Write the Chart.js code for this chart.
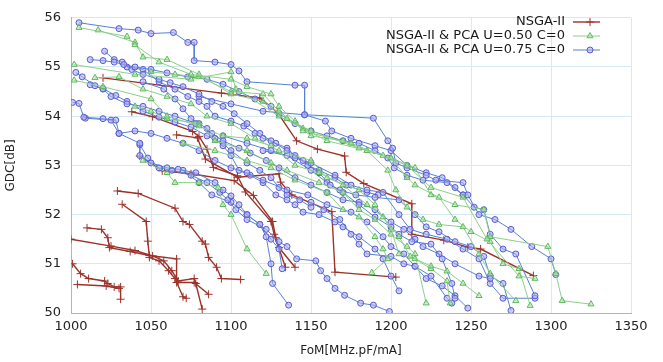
<!DOCTYPE html>
<html lang="en">
<head>
  <meta charset="UTF-8">
  <title>GDC vs FoM</title>
  <script src="https://cdn.jsdelivr.net/npm/chart.js"></script>
  <style>
    body { margin: 0; background: #ffffff; }
    #wrap { width: 663px; height: 362px; }
  </style>
</head>
<body>
  <div id="wrap"><canvas id="gdcChart" width="663" height="362"></canvas></div>

  <script>
    // axis ticks
    const xTicks = [1000, 1050, 1100, 1150, 1200, 1250, 1300, 1350];
    const yTicks = [50, 51, 52, 53, 54, 55, 56];
    const seriesNames = ['NSGA-II', 'NSGA-II & PCA U=0.50 C=0', 'NSGA-II & PCA U=0.75 C=0'];

    // NSGA-II runs (FoM, GDC)
    const nsgaRuns = [
      [[1020,54.78],[1094,54.47],[1118,54.37],[1129,54.08],[1141,53.5],[1154,53.33],[1171,53.19],[1172,52.86],[1183,52.63],[1213,52.22],[1213,51.6],[1233,51.48],[1248,51.34],[1256,51.3],[1289,50.76]],
      [[1038,54.09],[1051,53.99],[1076,53.69],[1080,53.59],[1085,53.33],[1089,52.96],[1104,52.79],[1109,52.46],[1125,51.86],[1127,51.6],[1134,50.93]],
      [[1066,53.62],[1079,53.56],[1084,53.13],[1104,52.76],[1130,52.83],[1131,52.66],[1138,52.4],[1163,52.06],[1165,50.83],[1203,50.73]],
      [[1043,53.19],[1057,52.89],[1075,52.83],[1102,52.69],[1114,52.39],[1126,51.86],[1128,51.53],[1130,51.33],[1140,50.93]],
      [[1029,52.48],[1042,52.43],[1065,52.13],[1070,51.86],[1074,51.8],[1082,51.46],[1084,51.4],[1086,51.13],[1091,50.93],[1094,50.7],[1106,50.68]],
      [[1032,52.21],[1047,51.86],[1048,51.46],[1049,51.13],[1055,51.06],[1061,50.86],[1065,50.7],[1070,50.33],[1072,50.3]],
      [[1010,51.73],[1019,51.7],[1023,51.53],[1024,51.33],[1037,51.25],[1049,51.17],[1066,51.1],[1066,50.62],[1077,50.62],[1086,50.38]],
      [[1000,51.5],[1025,51.36],[1040,51.27],[1051,51.16],[1058,51.06],[1063,50.86],[1067,50.65],[1077,50.7],[1078,50.6],[1082,50.08]],
      [[1001,51.0],[1006,50.8],[1011,50.7],[1021,50.65],[1023,50.6],[1027,50.53],[1031,50.53],[1031,50.28]],
      [[1004,50.58],[1022,50.55],[1030,50.5]]
    ];

    // NSGA-II & PCA U=0.50 runs
    const pca50Runs = [
      [[1005,55.8],[1035,55.62],[1040,55.45],[1055,55.1],[1075,54.85],[1100,54.75],[1110,54.6],[1125,54.45],[1130,54.2],[1140,53.9],[1145,53.7],[1175,53.45],[1195,53.2],[1210,53.0],[1225,52.55],[1245,52.35],[1260,51.5],[1280,50.75],[1290,50.7]],
      [[1017,55.75],[1040,55.5],[1045,55.2],[1060,55.15],[1080,54.85],[1100,54.45],[1120,54.3],[1135,53.95],[1150,53.7],[1180,53.35],[1200,53.15],[1215,52.95],[1225,52.4],[1240,52.2],[1258,52.1],[1262,51.55],[1298,51.35],[1303,50.8],[1307,50.25],[1325,50.18]],
      [[1002,55.05],[1040,54.85],[1075,54.75],[1100,54.9],[1103,54.55],[1130,54.0],[1145,53.75],[1160,53.5],[1185,53.3],[1200,53.15],[1210,52.75],[1215,52.6],[1230,52.35],[1240,51.9],[1250,51.65],[1262,51.45],[1270,51.0],[1280,50.9],[1287,50.15]],
      [[1002,54.73],[1020,54.6],[1050,54.35],[1060,54.0],[1080,53.8],[1095,53.6],[1110,53.55],[1125,53.4],[1140,53.0],[1155,52.85],[1170,52.6],[1185,52.2],[1195,51.95],[1205,51.55],[1212,51.15],[1225,50.95],[1235,50.85],[1245,50.6],[1255,50.35]],
      [[1015,54.78],[1030,54.8],[1045,54.55],[1060,54.4],[1075,54.25],[1085,54.0],[1100,53.85],[1115,53.55],[1130,53.3],[1150,53.1],[1160,52.75],[1180,52.5],[1190,52.2],[1200,51.7],[1205,51.2],[1215,51.1],[1225,50.9],[1235,50.65],[1237,50.2]],
      [[1045,53.1],[1060,52.85],[1065,52.65],[1080,52.65],[1092,52.55],[1095,52.2],[1100,52.0],[1110,51.3],[1122,50.8]],
      [[1040,54.2],[1050,54.1],[1060,53.95],[1080,53.85],[1090,53.5],[1110,53.3],[1125,53.05],[1135,52.9],[1155,52.65],[1170,52.45],[1180,52.1],[1190,51.9],[1200,51.6],[1210,51.35],[1215,51.2],[1222,50.2]],
      [[1050,54.9],[1065,54.85],[1080,54.8],[1100,54.5],[1120,54.45],[1130,54.1],[1150,53.6],[1170,53.5],[1185,53.3],[1198,52.9],[1203,52.5],[1210,52.15],[1220,51.9],[1230,51.8],[1245,51.75],[1255,51.2],[1262,50.8],[1278,50.25]],
      [[1070,53.45],[1090,53.3],[1110,53.1],[1125,52.95],[1140,52.7],[1160,52.45],[1170,52.1],[1180,51.95],[1190,51.55],[1195,51.3],[1198,51.1],[1188,50.82]]
    ];

    // NSGA-II & PCA U=0.75 runs
    const pca75Runs = [
      [[1005,55.9],[1030,55.78],[1042,55.75],[1050,55.68],[1064,55.7],[1073,55.5],[1077,55.5],[1077,55.13],[1090,55.1],[1100,55.05],[1105,54.92],[1110,54.7],[1140,54.63],[1146,54.63],[1146,54.03],[1189,53.96],[1198,53.5],[1201,53.35],[1203,53.05],[1210,52.95],[1222,52.8],[1228,52.7],[1245,52.65],[1248,52.4],[1255,52.0],[1265,51.9],[1275,51.7],[1288,51.35],[1300,51.1],[1303,50.78]],
      [[1012,55.15],[1020,55.13],[1027,55.1],[1033,55.05],[1040,55.0],[1050,54.95],[1060,54.88],[1073,54.8],[1085,54.75],[1095,54.65],[1105,54.5],[1115,54.35],[1125,54.2],[1130,54.05],[1140,53.85],[1150,53.7],[1160,53.6],[1170,53.5],[1180,53.45],[1190,53.3],[1198,53.15],[1202,52.95],[1210,52.8],[1220,52.7],[1235,52.65],[1245,52.4],[1252,52.15],[1258,52.1],[1262,51.6],[1270,51.3],[1278,51.2],[1290,50.35]],
      [[1021,55.32],[1027,55.15],[1032,55.1],[1038,54.95],[1045,54.85],[1055,54.75],[1062,54.68],[1070,54.6],[1080,54.45],[1088,54.3],[1095,54.2],[1102,54.05],[1110,53.85],[1118,53.65],[1125,53.5],[1135,53.3],[1145,53.1],[1155,52.85],[1162,52.6],[1170,52.45],[1180,52.2],[1190,51.95],[1200,51.75],[1205,51.6],[1213,51.45],[1225,51.4],[1232,51.1],[1238,50.6],[1240,50.3]],
      [[1003,54.89],[1007,54.8],[1015,54.62],[1020,54.55],[1025,54.4],[1035,54.25],[1045,54.2],[1055,54.1],[1065,54.0],[1078,53.85],[1088,53.65],[1095,53.5],[1105,53.35],[1112,53.25],[1122,53.1],[1130,52.95],[1140,52.75],[1150,52.6],[1160,52.45],[1170,52.3],[1180,52.25],[1190,52.1],[1200,51.85],[1208,51.7],[1215,51.5],[1220,51.35],[1230,51.2],[1240,51.0],[1255,50.75],[1262,50.7]],
      [[1001,54.28],[1005,54.26],[1008,53.98],[1020,53.95],[1028,53.92],[1030,53.65],[1040,53.7],[1050,53.65],[1060,53.55],[1070,53.45],[1080,53.3],[1090,53.1],[1100,52.95],[1110,52.85],[1120,52.7],[1135,52.5],[1148,52.4],[1160,52.2],[1175,52.05],[1185,51.85],[1195,51.55],[1200,51.35],[1208,51.2],[1215,50.95],[1225,50.75],[1235,50.3],[1238,50.2]],
      [[1009,53.96],[1025,53.92],[1030,53.65],[1043,53.45],[1043,53.2],[1050,53.05],[1060,52.95],[1067,52.92],[1078,52.85],[1090,52.65],[1095,52.5],[1100,52.38],[1105,52.2],[1110,52.0],[1118,51.8],[1125,51.5],[1130,51.3],[1132,50.9]],
      [[1043,53.42],[1048,53.15],[1055,52.95],[1063,52.9],[1075,52.8],[1085,52.65],[1093,52.45],[1098,52.3],[1103,52.1],[1110,51.9],[1122,51.7],[1130,51.45],[1135,51.35],[1141,51.1],[1153,51.06],[1156,50.86],[1160,50.7],[1165,50.5],[1171,50.36],[1181,50.2],[1189,50.16],[1199,50.03]],
      [[1070,52.9],[1080,52.65],[1088,52.4],[1100,52.25],[1110,52.0],[1118,51.8],[1122,51.55],[1125,51.0],[1126,50.6],[1136,50.16]],
      [[1080,54.4],[1100,54.25],[1120,54.1],[1146,54.03],[1159,53.9],[1163,53.7],[1175,53.55],[1190,53.4],[1200,53.3],[1210,53.0],[1222,52.85],[1232,52.75],[1240,52.55],[1245,52.4]],
      [[1120,53.3],[1135,53.2],[1150,52.9],[1160,52.65],[1168,52.5],[1178,52.4],[1190,52.35],[1205,52.3],[1215,52.0],[1222,51.75],[1230,51.65],[1240,51.45],[1250,51.35],[1258,51.15],[1262,50.75],[1270,50.6],[1275,50.05]],
      [[1095,53.6],[1110,53.45],[1125,53.3],[1140,53.15],[1150,53.05],[1165,52.8],[1175,52.6],[1185,52.5],[1195,52.45],[1205,52.0],[1212,51.7],[1222,51.6],[1235,51.5],[1245,51.3],[1255,51.1],[1262,50.6],[1270,50.3],[1290,50.3]],
      [[1150,52.25],[1158,52.1],[1168,51.9],[1175,51.6],[1180,51.4],[1185,51.2],[1200,51.15],[1208,51.0],[1215,50.95],[1222,50.7],[1232,50.55],[1240,50.35],[1248,50.1]],
      [[1045,54.7],[1058,54.55],[1065,54.35],[1070,54.15],[1075,53.95],[1080,53.85],[1085,53.75],[1090,53.55],[1095,53.4],[1100,53.2],[1105,52.9],[1112,52.8],[1120,52.65],[1128,52.4],[1135,52.3],[1140,52.2],[1145,52.05],[1155,52.0],[1165,51.85],[1170,51.75],[1180,51.55],[1190,51.3],[1195,51.1],[1200,50.75],[1205,50.45]],
      [[1035,55.0],[1045,54.95],[1055,54.7],[1065,54.55],[1073,54.4],[1080,54.3],[1085,54.2],[1090,54.0],[1100,53.9],[1108,53.8],[1115,53.65],[1120,53.55],[1128,53.45],[1135,53.35],[1140,53.2],[1148,53.0],[1155,52.9],[1165,52.75],[1172,52.6],[1185,52.45],[1192,52.4]],
      [[1012,54.64],[1020,54.56],[1028,54.42],[1035,54.3],[1045,54.1],[1055,53.98],[1065,53.88],[1075,53.78],[1085,53.6],[1095,53.45],[1100,53.3],[1110,53.05],[1118,52.9],[1125,52.75],[1130,52.55],[1135,52.4],[1143,52.3],[1150,52.15]]
    ];

    const styles = [
      { line: '#9c3229', point: '#9c3229', fill: 'rgba(0,0,0,0)', shape: 'cross', radius: 4, width: 1.4 },
      { line: '#8ccf8c', point: '#5fb85f', fill: 'rgba(170,230,170,0.5)', shape: 'triangle', radius: 3.5, width: 1 },
      { line: '#5582d2', point: '#5a5ad0', fill: 'rgba(170,175,245,0.6)', shape: 'circle', radius: 3, width: 1 }
    ];

    function makeSets(runs, s) {
      return runs.map(run => ({
        data: run.map(p => ({ x: p[0], y: p[1] })),
        showLine: true,
        borderColor: s.line,
        borderWidth: s.width,
        pointStyle: s.shape,
        pointRadius: s.radius,
        pointBorderColor: s.point,
        pointBackgroundColor: s.fill,
        pointBorderWidth: 1,
        tension: 0
      }));
    }

    const datasets = [
      ...makeSets(pca50Runs, styles[1]),
      ...makeSets(pca75Runs, styles[2]),
      ...makeSets(nsgaRuns, styles[0])
    ];

    // legend drawn in the top right corner, text right-aligned, sample to the right
    const keyPlugin = {
      id: 'key',
      afterDraw(chart) {
        const ctx = chart.ctx;
        ctx.save();
        ctx.font = '13px "DejaVu Sans"';
        ctx.textAlign = 'right';
        ctx.textBaseline = 'middle';
        const rows = [22, 36, 50];
        seriesNames.forEach((name, i) => {
          const y = rows[i];
          ctx.fillStyle = '#1a1a1a';
          ctx.fillText(name, 565, y);
          const s = styles[i];
          ctx.strokeStyle = s.line;
          ctx.lineWidth = s.width;
          ctx.beginPath();
          ctx.moveTo(573, y);
          ctx.lineTo(600, y);
          ctx.stroke();
          ctx.fillStyle = s.fill;
          ctx.strokeStyle = s.point;
          ctx.lineWidth = 1;
          Chart.helpers.drawPoint(ctx, { pointStyle: s.shape, radius: s.radius, rotation: 0, borderWidth: 1 }, 590, y);
        });
        ctx.restore();
      }
    };

    const tickFont = { family: 'DejaVu Sans', size: 13 };
    const gridCol = '#d6eaf2';

    new Chart(document.getElementById('gdcChart'), {
      type: 'scatter',
      data: { datasets },
      plugins: [keyPlugin],
      options: {
        responsive: false,
        animation: false,
        layout: { padding: { top: 13, right: 32, left: 0, bottom: 0 } },
        plugins: { legend: { display: false }, tooltip: { enabled: false } },
        scales: {
          x: {
            type: 'linear',
            min: 1000, max: 1350,
            afterBuildTicks: axis => { axis.ticks = xTicks.map(v => ({ value: v })); },
            afterFit: axis => { axis.height = 49; },
            ticks: { color: '#222', font: tickFont, padding: 6, callback: v => String(v) },
            grid: { color: gridCol, drawTicks: false },
            border: { color: '#8fc0d8' },
            title: { display: true, text: 'FoM[MHz.pF/mA]', color: '#222', font: { family: 'DejaVu Sans', size: 12 }, padding: { top: 4 } }
          },
          y: {
            type: 'linear',
            min: 50, max: 56,
            afterBuildTicks: axis => { axis.ticks = yTicks.map(v => ({ value: v })); },
            afterFit: axis => { axis.width = 71; },
            ticks: { color: '#222', font: tickFont, padding: 10, callback: v => String(v) },
            grid: { color: gridCol, drawTicks: false },
            border: { color: '#8fc0d8' },
            title: { display: true, text: 'GDC[dB]', color: '#222', font: { family: 'DejaVu Sans', size: 12 }, padding: { bottom: 8 } }
          }
        }
      }
    });
  </script>
</body>
</html>
